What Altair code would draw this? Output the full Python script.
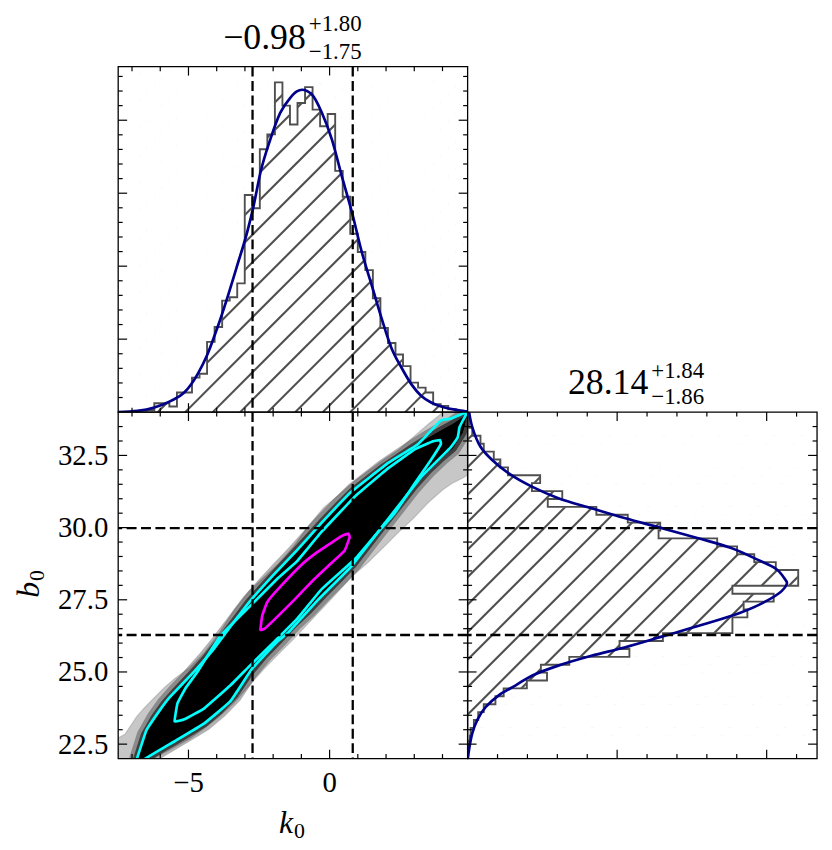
import altair as alt
import numpy as np
import pandas as pd

FONT = "Liberation Serif"
MINUS = "\u2212"
HIST_GRAY = "#4f4f4f"
NAVY = "#00008b"
CYAN = "#00ffff"
MAGENTA = "#ff00ff"

W = 352
H_TOP = 348
H_BOT = 349

# ---------------- data ----------------
K0_DOMAIN = [-7.49, 4.89]
B0_DOMAIN = [22.0, 34.0]
DK_DOMAIN = [0.0, 0.2367]
DB_DOMAIN = [0.0, 0.2337]

k0_stats = [-0.98, 1.80, 1.75]   # median, +err, -err
b0_stats = [28.14, 1.84, 1.86]

k0_hist_start = -6.744
k0_hist_width = 0.267
k0_hist = [0.0010, 0.0015, 0.0061, 0.0061, 0.0039, 0.0134, 0.0134, 0.0236, 0.0263,
           0.0481, 0.0583, 0.0764, 0.0787, 0.0882, 0.1488, 0.1397, 0.1801, 0.1903,
           0.2259, 0.2100, 0.1971, 0.2118, 0.2227, 0.2073, 0.1959, 0.2043, 0.1653,
           0.1476, 0.1222, 0.1097, 0.0973, 0.0780, 0.0576, 0.0474, 0.0395, 0.0315,
           0.0202, 0.0168, 0.0134, 0.0054, 0.0043, 0.0020, 0.0010]

b0_hist_start = 21.97
b0_hist_width = 0.2734
b0_hist = [0.0003, 0.0007, 0.0015, 0.0020, 0.0042, 0.0071, 0.0108, 0.0186, 0.0241,
           0.0396, 0.0531, 0.0490, 0.0680, 0.1082, 0.1016, 0.1306, 0.1771, 0.1771,
           0.1871, 0.1846, 0.2047, 0.1771, 0.2211, 0.2211, 0.2061, 0.1917, 0.1802,
           0.1669, 0.1277, 0.1288, 0.1071, 0.0861, 0.0536, 0.0633, 0.0430, 0.0485,
           0.0270, 0.0219, 0.0175, 0.0108, 0.0086, 0.0031, 0.0009, 0.0005]

k0_curve_x = [-7.49, -6.80, -6.21, -5.62, -5.15, -4.68, -4.33, -3.98, -3.63, -3.27,
              -2.92, -2.69, -2.45, -2.10, -1.75, -1.40, -1.16, -0.98, -0.62, -0.27,
              0.08, 0.43, 0.79, 1.14, 1.49, 1.84, 2.19, 2.55, 2.90, 3.25, 3.60, 4.07,
              4.54, 4.89]
k0_curve_d = [0.0001, 0.0009, 0.0032, 0.0077, 0.0134, 0.0259, 0.0395, 0.0576, 0.0780,
              0.1007, 0.1233, 0.1415, 0.1642, 0.1869, 0.2050, 0.2152, 0.2197, 0.2209,
              0.2175, 0.2050, 0.1869, 0.1619, 0.1370, 0.1097, 0.0871, 0.0644, 0.0440,
              0.0304, 0.0190, 0.0111, 0.0066, 0.0032, 0.0014, 0.0003]

b0_curve_y = [21.95, 22.29, 22.87, 23.33, 23.78, 24.19, 24.53, 24.87, 25.22, 25.56,
              25.85, 26.25, 26.65, 27.05, 27.40, 27.80, 28.08, 28.21, 28.55, 28.90,
              29.30, 29.64, 29.99, 30.33, 30.67, 31.02, 31.42, 31.88, 32.34, 32.80,
              33.48, 34.00]
b0_curve_d = [0.0000, 0.0009, 0.0031, 0.0064, 0.0120, 0.0208, 0.0319, 0.0430, 0.0606,
              0.0828, 0.1049, 0.1315, 0.1580, 0.1824, 0.1978, 0.2100, 0.2136, 0.2123,
              0.2068, 0.1935, 0.1758, 0.1536, 0.1293, 0.1049, 0.0829, 0.0607, 0.0430,
              0.0275, 0.0164, 0.0086, 0.0031, 0.0010]

# sample cloud envelope (outer grey halo and dense black core)
halo_k0 = [-7.50, -7.25, -6.83, -6.55, -6.20, -5.85, -5.49, -4.96, -4.44, -3.91, -3.38,
           -2.85, -2.32, -1.80, -1.27, -0.74, -0.21, 0.32, 0.85, 1.37, 1.90, 2.43, 2.96,
           3.49, 4.01, 4.37, 4.72, 4.89]
halo_hi = [22.71, 22.84, 23.46, 23.77, 24.12, 24.46, 24.77, 25.15, 25.66, 26.35, 27.14,
           27.80, 28.28, 28.76, 29.35, 30.07, 30.69, 31.13, 31.58, 31.96, 32.34, 32.68,
           33.13, 33.58, 33.99, 34.16, 34.16, 34.16]
halo_lo = [21.88, 21.88, 21.88, 21.88, 22.02, 22.21, 22.40, 22.69, 23.05, 23.46, 23.94,
           24.53, 25.11, 25.63, 26.15, 26.70, 27.25, 27.80, 28.36, 28.80, 29.31, 29.83,
           30.31, 30.86, 31.31, 31.55, 31.72, 31.82]
core_k0 = [-6.83, -6.55, -6.20, -5.85, -5.49, -4.96, -4.44, -3.91, -3.38, -2.85, -2.32,
           -1.80, -1.27, -0.74, -0.21, 0.32, 0.85, 1.37, 1.90, 2.43, 2.96, 3.49, 4.01,
           4.37, 4.72, 4.89]
core_hi = [21.95, 22.81, 23.41, 23.89, 24.29, 24.84, 25.41, 26.05, 26.73, 27.42, 28.00,
           28.55, 29.10, 29.67, 30.24, 30.77, 31.29, 31.68, 32.08, 32.43, 32.78, 33.10,
           33.40, 33.59, 33.82, 33.99]
core_lo = [21.88, 21.98, 22.19, 22.40, 22.60, 22.91, 23.22, 23.66, 24.19, 24.96, 25.58,
           26.10, 26.66, 27.14, 27.69, 28.21, 28.75, 29.41, 30.08, 30.74, 31.40, 31.98,
           32.46, 32.75, 33.30, 33.99]

# contour loops
outer_k0 = [-6.88, -6.84, -6.49, -6.02, -5.67, -4.80, -4.10, -3.63, -2.82, -1.97, -1.16,
            -0.28, 0.77, 2.08, 3.13, 3.94, 4.30, 4.65, 4.89, 4.72, 4.60, 4.54, 4.30, 4.19,
            3.24, 1.97, 0.77, -0.39, -1.44, -1.87, -2.75, -3.52, -4.44, -5.49, -6.61, -6.57]
outer_b0 = [21.81, 21.95, 22.98, 23.67, 24.12, 25.01, 25.80, 26.42, 27.45, 28.38, 29.21,
            30.17, 31.24, 32.24, 32.89, 33.71, 33.78, 33.92, 34.02, 33.71, 33.47, 33.13,
            32.79, 32.68, 31.75, 30.17, 28.66, 27.52, 26.39, 26.04, 25.11, 23.98, 23.22,
            22.60, 21.95, 21.81]
inner_k0 = [-5.49, -5.39, -5.11, -4.68, -3.87, -2.82, -1.87, -1.16, -0.28, 0.92, 2.08,
            3.03, 3.66, 3.91, 3.94, 3.59, 3.03, 2.32, 1.73, 0.92, -0.28, -1.16, -1.97,
            -2.82, -3.52, -4.44, -5.14]
inner_b0 = [23.29, 23.91, 24.43, 25.01, 26.25, 27.28, 28.21, 28.83, 29.86, 31.10, 32.06,
            32.72, 32.99, 33.03, 32.89, 32.34, 31.55, 30.52, 29.86, 28.93, 27.87, 26.83,
            26.04, 25.22, 24.53, 23.74, 23.36]
mag_k0 = [-2.45, -2.39, -2.21, -1.73, -1.02, -0.45, 0.10, 0.47, 0.67, 0.71, 0.53, -0.03,
          -0.55, -1.26, -1.94, -2.30]
mag_b0 = [26.46, 26.94, 27.42, 27.97, 28.69, 29.14, 29.50, 29.73, 29.79, 29.66, 29.20,
          28.69, 28.21, 27.49, 26.83, 26.50]

# ticks
k0_major = [-5, 0]
k0_minor = [-7, -6, -4, -3, -2, -1, 1, 2, 3, 4]
b0_major = [22.5, 25.0, 27.5, 30.0, 32.5]
b0_minor = [23.0, 23.5, 24.0, 24.5, 25.5, 26.0, 26.5, 27.0, 28.0, 28.5, 29.0, 29.5,
            30.5, 31.0, 31.5, 32.0, 33.0, 33.5]
dk_major = [0.05, 0.10, 0.15, 0.20]
dk_minor = [0.01, 0.02, 0.03, 0.04, 0.06, 0.07, 0.08, 0.09, 0.11, 0.12, 0.13, 0.14,
            0.16, 0.17, 0.18, 0.19, 0.21, 0.22, 0.23]
db_major = [0.1, 0.2]
db_minor = [0.02, 0.04, 0.06, 0.08, 0.12, 0.14, 0.16, 0.18, 0.22]

# ---------------- helpers ----------------
ONE = pd.DataFrame({"a": [0]})
MAJ, MIN = 9, 4.5


def sc(dom):
    return alt.Scale(domain=dom, nice=False, zero=False)


XK, YB, YDK, XDB = sc(K0_DOMAIN), sc(B0_DOMAIN), sc(DK_DOMAIN), sc(DB_DOMAIN)


def num(v, nd):
    return f"{v:.{nd}f}".replace("-", MINUS)


def step_frame(start, width, vals, lo, hi):
    pos, val = [lo, start], [0.0, 0.0]
    for i, v in enumerate(vals):
        a = start + i * width
        pos += [a, a + width]
        val += [v, v]
    end = start + len(vals) * width
    pos += [end, hi]
    val += [0.0, 0.0]
    return pd.DataFrame({"pos": pos, "val": val, "i": range(len(pos))})


def bin_frame(start, width, vals, lo, hi, cap):
    a = [lo] + [start + i * width for i in range(len(vals))] + [start + len(vals) * width]
    b = [start] + [start + (i + 1) * width for i in range(len(vals))] + [hi]
    v = [0.0] + list(vals) + [0.0]
    return pd.DataFrame({"a": a, "b": b, "val": v, "cap": cap})


def hatch_layer(width, height, step=27.7):
    offs = np.arange(-height, width + step, step)
    df = pd.DataFrame({"hx1": offs, "hx2": offs + height,
                       "hy1": float(height), "hy2": 0.0})
    return alt.Chart(df).mark_rule(color=HIST_GRAY, strokeWidth=2.1, clip=True).encode(
        x=alt.X("hx1:Q", scale=None, axis=None), x2="hx2:Q",
        y=alt.Y("hy1:Q", scale=None, axis=None), y2="hy2:Q")


def xticks(vals, scale, height, length):
    base = alt.Chart(pd.DataFrame({"v": vals})).mark_rule(color="black", strokeWidth=1.2)
    return [
        base.encode(x=alt.X("v:Q", scale=scale, axis=None), y=alt.value(height), y2=alt.value(height - length)),
        base.encode(x=alt.X("v:Q", scale=scale, axis=None), y=alt.value(0), y2=alt.value(length)),
    ]


def yticks(vals, scale, width, length):
    base = alt.Chart(pd.DataFrame({"v": vals})).mark_rule(color="black", strokeWidth=1.2)
    return [
        base.encode(y=alt.Y("v:Q", scale=scale, axis=None), x=alt.value(0), x2=alt.value(length)),
        base.encode(y=alt.Y("v:Q", scale=scale, axis=None), x=alt.value(width), x2=alt.value(width - length)),
    ]


def frame(width, height):
    return alt.Chart(ONE).mark_rect(fillOpacity=0, stroke="black", strokeWidth=1.3).encode(
        x=alt.value(0), x2=alt.value(width), y=alt.value(0), y2=alt.value(height))


def text(txt, x, y, size, align="left", angle=None, style="normal"):
    kw = dict(font=FONT, fontSize=size, align=align, baseline="alphabetic",
              color="black", fontStyle=style)
    if angle is not None:
        kw["angle"] = angle
    return alt.Chart(ONE).mark_text(**kw).encode(
        x=alt.value(x), y=alt.value(y), text=alt.value(txt))


def vdash(vals, scale):
    return alt.Chart(pd.DataFrame({"v": vals})).mark_rule(
        color="black", strokeWidth=2.3, strokeDash=[10, 4.5]).encode(
        x=alt.X("v:Q", scale=scale, axis=None))


def hdash(vals, scale):
    return alt.Chart(pd.DataFrame({"v": vals})).mark_rule(
        color="black", strokeWidth=2.3, strokeDash=[10, 4.5]).encode(
        y=alt.Y("v:Q", scale=scale, axis=None))


k_lo, k_hi = k0_stats[0] - k0_stats[2], k0_stats[0] + k0_stats[1]
b_lo, b_hi = b0_stats[0] - b0_stats[2], b0_stats[0] + b0_stats[1]

# ---------------- top panel: k0 marginal ----------------
kdf = step_frame(k0_hist_start, k0_hist_width, k0_hist, *K0_DOMAIN)
kbins = bin_frame(k0_hist_start, k0_hist_width, k0_hist, K0_DOMAIN[0], K0_DOMAIN[1], DK_DOMAIN[1])
kcurve = pd.DataFrame({"k": k0_curve_x, "d": k0_curve_d, "i": range(len(k0_curve_x))})

top_layers = [
    hatch_layer(W, H_TOP),
    alt.Chart(kbins).mark_rect(color="white", stroke="white", strokeWidth=0.8, clip=True).encode(
        x=alt.X("a:Q", scale=XK, axis=None), x2="b:Q",
        y=alt.Y("val:Q", scale=YDK, axis=None), y2="cap:Q"),
    alt.Chart(kdf).mark_line(color=HIST_GRAY, strokeWidth=1.9, clip=True).encode(
        x=alt.X("pos:Q", scale=XK, axis=None), y=alt.Y("val:Q", scale=YDK, axis=None),
        order="i:Q"),
    alt.Chart(kcurve).mark_line(color=NAVY, strokeWidth=2.7, interpolate="monotone", clip=True).encode(
        x=alt.X("k:Q", scale=XK, axis=None), y=alt.Y("d:Q", scale=YDK, axis=None), order="i:Q"),
    vdash([k_lo, k_hi], XK),
]
top_layers += xticks(k0_major, XK, H_TOP, MAJ) + xticks(k0_minor, XK, H_TOP, MIN)
top_layers += yticks(dk_major, YDK, W, MAJ) + yticks(dk_minor, YDK, W, MIN)
top_layers += [
    frame(W, H_TOP),
    text(num(k0_stats[0], 2), 189, -18, 36, align="right"),
    text("+" + num(k0_stats[1], 2), 192, -36, 23),
    text(MINUS + num(k0_stats[2], 2), 192, -8, 23),
]
top = alt.layer(*top_layers).properties(width=W, height=H_TOP)

blank = alt.Chart(ONE).mark_point(opacity=0).encode(
    x=alt.value(0), y=alt.value(0)).properties(width=W, height=H_TOP)

# ---------------- bottom-left: joint distribution ----------------
halo = pd.DataFrame({"k": halo_k0, "hi": halo_hi, "lo": halo_lo})
core = pd.DataFrame({"k": core_k0, "hi": core_hi, "lo": core_lo})


def loop(kk, bb):
    return pd.DataFrame({"k": kk, "b": bb, "i": range(len(kk))})


sc_layers = [
    alt.Chart(halo).mark_area(fill="black", fillOpacity=0.22, stroke="#8a8a8a",
                              strokeWidth=1.2, strokeOpacity=0.4, clip=True).encode(
        x=alt.X("k:Q", scale=XK, axis=None), y=alt.Y("hi:Q", scale=YB, axis=None), y2="lo:Q"),
    alt.Chart(core).mark_area(fill="black", stroke="black", strokeWidth=16,
                              strokeOpacity=0.3, clip=True).encode(
        x=alt.X("k:Q", scale=XK, axis=None), y=alt.Y("hi:Q", scale=YB, axis=None), y2="lo:Q"),
    alt.Chart(core).mark_area(fill="black", stroke="black", strokeWidth=8,
                              strokeOpacity=0.55, clip=True).encode(
        x=alt.X("k:Q", scale=XK, axis=None), y=alt.Y("hi:Q", scale=YB, axis=None), y2="lo:Q"),
]
for kk, bb, col in [(outer_k0, outer_b0, CYAN), (inner_k0, inner_b0, CYAN), (mag_k0, mag_b0, MAGENTA)]:
    sc_layers.append(
        alt.Chart(loop(kk, bb)).mark_line(color=col, strokeWidth=2.7, tension=0.75,
                                          interpolate="cardinal-closed", clip=True).encode(
            x=alt.X("k:Q", scale=XK, axis=None), y=alt.Y("b:Q", scale=YB, axis=None), order="i:Q"))
sc_layers += [vdash([k_lo, k_hi], XK), hdash([b_lo, b_hi], YB)]
sc_layers += xticks(k0_major, XK, H_BOT, MAJ) + xticks(k0_minor, XK, H_BOT, MIN)
sc_layers += yticks(b0_major, YB, W, MAJ) + yticks(b0_minor, YB, W, MIN)

# tick labels
xlab = pd.DataFrame({"v": k0_major, "t": [num(v, 0) for v in k0_major]})
ylab = pd.DataFrame({"v": b0_major, "t": [num(v, 1) for v in b0_major]})
sc_layers += [
    alt.Chart(xlab).mark_text(font=FONT, fontSize=29, align="center", baseline="alphabetic",
                              color="black").encode(
        x=alt.X("v:Q", scale=XK, axis=None), y=alt.value(H_BOT + 34), text="t:N"),
    alt.Chart(ylab).mark_text(font=FONT, fontSize=29, align="right", baseline="alphabetic",
                              color="black", dx=-10, dy=9.5).encode(
        y=alt.Y("v:Q", scale=YB, axis=None), x=alt.value(0), text="t:N"),
]
sc_layers += [
    frame(W, H_BOT),
    text("k", 162, 424, 32, style="italic"),
    text("0", 177, 429, 22),
    text("b", -80, 187, 32, angle=270, style="italic"),
    text("0", -75, 170, 22, angle=270),
]
scatter = alt.layer(*sc_layers).properties(width=W, height=H_BOT)

# ---------------- bottom-right: b0 marginal ----------------
bdf = step_frame(b0_hist_start, b0_hist_width, b0_hist, *B0_DOMAIN)
bbins = bin_frame(b0_hist_start, b0_hist_width, b0_hist, B0_DOMAIN[0], B0_DOMAIN[1], DB_DOMAIN[1])
bcurve = pd.DataFrame({"b": b0_curve_y, "d": b0_curve_d, "i": range(len(b0_curve_y))})

r_layers = [
    hatch_layer(W, H_BOT),
    alt.Chart(bbins).mark_rect(color="white", stroke="white", strokeWidth=0.8, clip=True).encode(
        y=alt.Y("a:Q", scale=YB, axis=None), y2="b:Q",
        x=alt.X("val:Q", scale=XDB, axis=None), x2="cap:Q"),
    alt.Chart(bdf).mark_line(color=HIST_GRAY, strokeWidth=1.9, clip=True).encode(
        y=alt.Y("pos:Q", scale=YB, axis=None), x=alt.X("val:Q", scale=XDB, axis=None),
        order="i:Q"),
    alt.Chart(bcurve).mark_line(color=NAVY, strokeWidth=2.7, interpolate="catmull-rom", clip=True).encode(
        y=alt.Y("b:Q", scale=YB, axis=None), x=alt.X("d:Q", scale=XDB, axis=None), order="i:Q"),
    hdash([b_lo, b_hi], YB),
]
r_layers += xticks(db_major, XDB, H_BOT, MAJ) + xticks(db_minor, XDB, H_BOT, MIN)
r_layers += yticks(b0_major, YB, W, MAJ) + yticks(b0_minor, YB, W, MIN)
r_layers += [
    frame(W, H_BOT),
    text(num(b0_stats[0], 2), 182, -18, 36, align="right"),
    text("+" + num(b0_stats[1], 2), 185, -34, 23),
    text(MINUS + num(b0_stats[2], 2), 185, -8, 23),
]
right = alt.layer(*r_layers).properties(width=W, height=H_BOT)

chart = alt.concat(top, blank, scatter, right, columns=2, spacing=0, bounds="flush").properties(
    padding={"left": 5, "top": 2, "right": 5, "bottom": 5}
).configure_view(stroke=None).configure_axis(grid=False)

chart.save("out.html", embed_options={"renderer": "svg", "actions": False})
